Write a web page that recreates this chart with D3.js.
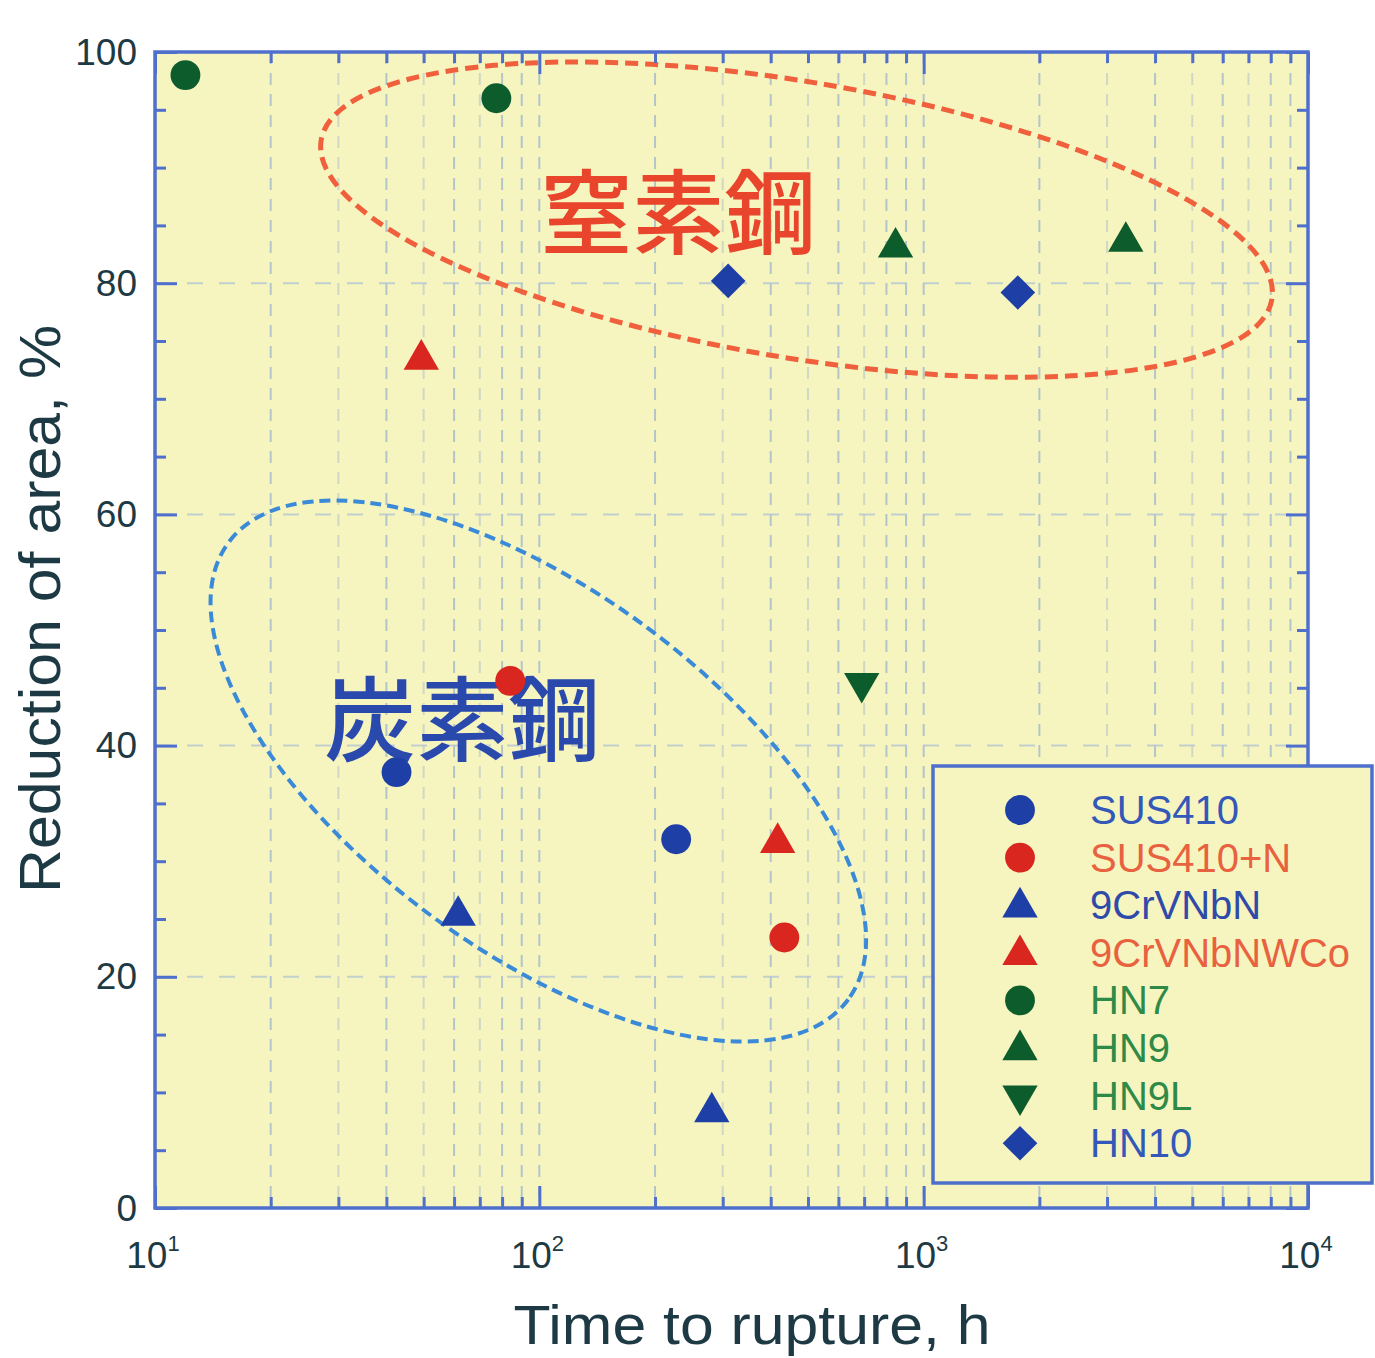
<!DOCTYPE html>
<html>
<head>
<meta charset="utf-8">
<script src="https://cdn.jsdelivr.net/npm/d3@7"></script>
<style>
  body { margin: 0; background: #fff; }
  svg { display: block; }
</style>
</head>
<body>
<div class="canvas"></div>
<script>
// ---- data: [time to rupture (h), reduction of area (%)] ----
const SUS410     = [[42.5, 37.7], [227, 31.9]];
const SUS410N    = [[84, 45.6], [434, 23.4]];
const CrVNbN     = [[61.5, 25.3], [281, 8.3]];
const CrVNbNWCo  = [[49.3, 73.4], [417, 31.6]];
const HN7        = [[12.0, 98.0], [77.3, 96.0]];
const HN9        = [[845, 83.1], [3357, 83.6]];
const HN9L       = [[690, 45.4]];
const HN10       = [[310, 80.2], [1758, 79.2]];

const seriesNames = ['SUS410', 'SUS410+N', '9CrVNbN', '9CrVNbNWCo', 'HN7', 'HN9', 'HN9L', 'HN10'];
const seriesData  = [SUS410, SUS410N, CrVNbN, CrVNbNWCo, HN7, HN9, HN9L, HN10];

// tick values
const xDecades = [10, 100, 1000, 10000];
const yMajor = [0, 20, 40, 60, 80, 100];

// group annotations (centre in data units)
const groupLabels = ['窒素鋼', '炭素鋼'];
const groupCentres = [[467, 85.5], [99.4, 37.8]];
const labelCentres = [[230, 86.6], [63, 42.8]];

// ---- look ----
const W = 1375, H = 1358;
const plot = { left: 155, top: 52, right: 1308, bottom: 1208 };
const axisBlue = '#4f6fcc';
const textDark = '#1d3a44';
const font = '"Liberation Sans", Arial, sans-serif';

const markerStyle = {
  'SUS410':     { shape: 'circle',   color: '#1e3fa6', text: '#3358b8' },
  'SUS410+N':   { shape: 'circle',   color: '#d9261e', text: '#e8623f' },
  '9CrVNbN':    { shape: 'triangle', color: '#1e3fa6', text: '#2f4aa8' },
  '9CrVNbNWCo': { shape: 'triangle', color: '#d9261e', text: '#e8623f' },
  'HN7':        { shape: 'circle',   color: '#0d5c2c', text: '#2f8a47' },
  'HN9':        { shape: 'triangle', color: '#0d5c2c', text: '#2f8a47' },
  'HN9L':       { shape: 'down',     color: '#0d5c2c', text: '#2f8a47' },
  'HN10':       { shape: 'diamond',  color: '#1e3fa6', text: '#3358b8' }
};

// ellipse sizes in px: semi-major, semi-minor, rotation in degrees
const ellipseStyle = [
  { rx: 482, ry: 138, rot: 9.5, color: '#f0603c', width: 5, dash: '13,7' },
  { rx: 385, ry: 180, rot: 36.4, color: '#3a8ad8', width: 4, dash: '11,6' }
];
const labelColors = ['#e8452c', '#2a49ad'];

const svg = d3.select('.canvas')
  .append('svg')
  .attr('width', W)
  .attr('height', H);

const x = d3.scaleLog().domain([10, 10000]).range([plot.left, plot.right]);
const y = d3.scaleLinear().domain([0, 100]).range([plot.bottom, plot.top]);

// minor log ticks
const xMinor = [];
xDecades.slice(0, 3).forEach(d => { for (let k = 2; k <= 9; k++) xMinor.push(k * d); });
const yMinor = d3.range(0, 101, 5).filter(v => v % 20 !== 0);

// background
svg.append('rect')
  .attr('x', plot.left).attr('y', plot.top)
  .attr('width', plot.right - plot.left).attr('height', plot.bottom - plot.top)
  .attr('fill', '#f6f5c0');

// grid lines
const mantissa = d => Math.round(d / Math.pow(10, Math.floor(Math.log10(d) + 1e-9)));
const grid = svg.append('g');
grid.selectAll('line.vx')
  .data(xMinor.concat(xDecades.slice(1, 3)))
  .enter().append('line')
  .attr('x1', d => x(d)).attr('x2', d => x(d))
  .attr('y1', plot.top).attr('y2', plot.bottom)
  .attr('stroke', '#9fb6cc')
  .attr('stroke-width', 2)
  .attr('stroke-dasharray', '12,9')
  .attr('opacity', d => [2, 4, 6, 8, 9, 1].includes(mantissa(d)) ? 0.75 : 0.45);
grid.selectAll('line.hy')
  .data([20, 40, 60, 80])
  .enter().append('line')
  .attr('x1', plot.left).attr('x2', plot.right)
  .attr('y1', d => y(d)).attr('y2', d => y(d))
  .attr('stroke', '#b5c6d2')
  .attr('stroke-width', 2)
  .attr('stroke-dasharray', '16,16')
  .attr('opacity', 0.8);

// group ellipses
groupCentres.forEach((c, i) => {
  const s = ellipseStyle[i];
  svg.append('ellipse')
    .attr('cx', 0).attr('cy', 0)
    .attr('rx', s.rx).attr('ry', s.ry)
    .attr('transform', `translate(${x(c[0])},${y(c[1])}) rotate(${s.rot})`)
    .attr('fill', 'none')
    .attr('stroke', s.color)
    .attr('stroke-width', s.width)
    .attr('stroke-dasharray', s.dash);
});

// group labels
svg.selectAll('text.group')
  .data(groupLabels)
  .enter().append('text')
  .attr('x', (d, i) => x(labelCentres[i][0]))
  .attr('y', (d, i) => y(labelCentres[i][1]))
  .attr('text-anchor', 'middle')
  .attr('dominant-baseline', 'central')
  .attr('font-family', '"Noto Sans CJK JP", sans-serif')
  .attr('font-weight', 500)
  .attr('font-size', 92)
  .attr('fill', (d, i) => labelColors[i])
  .text(d => d);

// symbol generator
const symbolPath = (shape, big) => {
  if (shape === 'circle') return d3.symbol().type(d3.symbolCircle).size(700)();
  if (shape === 'diamond') return d3.symbol().type(d3.symbolSquare).size(600)();
  return d3.symbol().type(d3.symbolTriangle).size(540)();
};
const symbolRotate = (shape) => shape === 'down' ? 180 : (shape === 'diamond' ? 45 : 0);

// data points
const rows = [];
seriesData.forEach((pts, i) => pts.forEach(p => rows.push({ name: seriesNames[i], t: p[0], ra: p[1] })));

svg.append('g').selectAll('path')
  .data(rows)
  .enter().append('path')
  .attr('d', d => symbolPath(markerStyle[d.name].shape))
  .attr('transform', d => `translate(${x(d.t)},${y(d.ra)}) rotate(${symbolRotate(markerStyle[d.name].shape)})`)
  .attr('fill', d => markerStyle[d.name].color);

// axes: inward ticks on all four sides
const tickStyle = g => {
  g.select('.domain').remove();
  g.selectAll('.tick line').attr('stroke', axisBlue).attr('stroke-width', 3);
  g.selectAll('.tick text').remove();
};
svg.append('g').attr('transform', `translate(0,${plot.bottom})`)
  .call(d3.axisBottom(x).tickValues(xMinor).tickSize(-11)).call(tickStyle);
svg.append('g').attr('transform', `translate(0,${plot.bottom})`)
  .call(d3.axisBottom(x).tickValues(xDecades).tickSize(-22)).call(tickStyle);
svg.append('g').attr('transform', `translate(0,${plot.top})`)
  .call(d3.axisTop(x).tickValues(xMinor).tickSize(-11)).call(tickStyle);
svg.append('g').attr('transform', `translate(0,${plot.top})`)
  .call(d3.axisTop(x).tickValues(xDecades).tickSize(-22)).call(tickStyle);
svg.append('g').attr('transform', `translate(${plot.left},0)`)
  .call(d3.axisLeft(y).tickValues(yMinor).tickSize(-11)).call(tickStyle);
svg.append('g').attr('transform', `translate(${plot.left},0)`)
  .call(d3.axisLeft(y).tickValues(yMajor).tickSize(-22)).call(tickStyle);
svg.append('g').attr('transform', `translate(${plot.right},0)`)
  .call(d3.axisRight(y).tickValues(yMinor).tickSize(-11)).call(tickStyle);
svg.append('g').attr('transform', `translate(${plot.right},0)`)
  .call(d3.axisRight(y).tickValues(yMajor).tickSize(-22)).call(tickStyle);

// frame
svg.append('rect')
  .attr('x', plot.left).attr('y', plot.top)
  .attr('width', plot.right - plot.left).attr('height', plot.bottom - plot.top)
  .attr('fill', 'none')
  .attr('stroke', axisBlue)
  .attr('stroke-width', 3.5);

// y tick labels
svg.selectAll('text.ylab')
  .data(yMajor)
  .enter().append('text')
  .attr('x', plot.left - 18)
  .attr('y', d => y(d))
  .attr('text-anchor', 'end')
  .attr('dominant-baseline', 'central')
  .attr('font-family', font)
  .attr('font-size', 37)
  .attr('fill', textDark)
  .text(d => d);

// x tick labels 10^n
const xl = svg.selectAll('text.xlab')
  .data(xDecades)
  .enter().append('text')
  .attr('x', d => x(d) - 2)
  .attr('y', plot.bottom + 60)
  .attr('text-anchor', 'middle')
  .attr('font-family', font)
  .attr('fill', textDark);
xl.append('tspan').attr('font-size', 37).text('10');
xl.append('tspan').attr('font-size', 22).attr('dy', -17).text(d => Math.round(Math.log10(d)));

// axis titles
svg.append('text')
  .attr('x', 752).attr('y', 1344)
  .attr('text-anchor', 'middle')
  .attr('font-family', font)
  .attr('font-size', 56)
  .attr('textLength', 477)
  .attr('lengthAdjust', 'spacingAndGlyphs')
  .attr('fill', textDark)
  .text('Time to rupture, h');

svg.append('text')
  .attr('transform', `translate(60,609) rotate(-90)`)
  .attr('text-anchor', 'middle')
  .attr('font-family', font)
  .attr('font-size', 57)
  .attr('textLength', 568)
  .attr('lengthAdjust', 'spacingAndGlyphs')
  .attr('fill', textDark)
  .text('Reduction of area, %');

// legend
const legend = svg.append('g').attr('transform', 'translate(933,766)');
legend.append('rect')
  .attr('width', 439).attr('height', 417)
  .attr('fill', '#f6f5c0')
  .attr('stroke', axisBlue)
  .attr('stroke-width', 3.5);
const item = legend.selectAll('g.item')
  .data(seriesNames)
  .enter().append('g')
  .attr('transform', (d, i) => `translate(0,${44 + i * 47.6})`);
item.append('path')
  .attr('d', d => symbolPath(markerStyle[d].shape))
  .attr('transform', d => `translate(87,${markerStyle[d].shape === 'triangle' ? 2 : 0}) rotate(${symbolRotate(markerStyle[d].shape)})`)
  .attr('fill', d => markerStyle[d].color);
item.append('text')
  .attr('x', 157)
  .attr('dominant-baseline', 'central')
  .attr('font-family', font)
  .attr('font-size', 40)
  .attr('fill', d => markerStyle[d].text)
  .text(d => d);
</script>
</body>
</html>
